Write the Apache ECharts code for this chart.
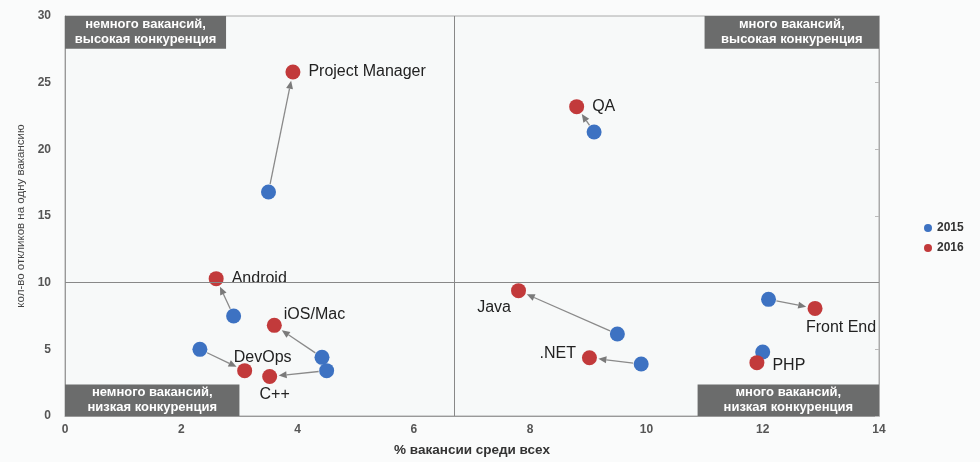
<!DOCTYPE html>
<html><head><meta charset="utf-8">
<script src="https://cdn.jsdelivr.net/npm/echarts@6/dist/echarts.min.js"></script>
<style>html,body{margin:0;padding:0;background:#fafbfb}#c{width:980px;height:462px}</style>
</head><body><div id="c"></div>
<script>
// ---- data ----
const names = ['Project Manager','QA','Android','iOS/Mac','DevOps','C++','Java','.NET','Front End','PHP'];
const x2015 = [3.5, 9.1, 2.9, 4.42, 2.32, 4.5, 9.5, 9.91, 12.1, 12.0];
const y2015 = [16.8, 21.3, 7.5, 4.4, 5.0, 3.4, 6.15, 3.9, 8.75, 4.8];
const x2016 = [3.92, 8.8, 2.6, 3.6, 3.09, 3.52, 7.8, 9.02, 12.9, 11.9];
const y2016 = [25.8, 23.2, 10.3, 6.8, 3.4, 2.96, 9.4, 4.37, 8.07, 4.0];
const seriesNames = ['2015','2016'];
const xTicks = {min:0, max:14, interval:2};
const yTicks = {min:0, max:30, interval:5};
const xSplit = 6.7;   // quadrant divider (% vacancies)
const ySplit = 10;    // quadrant divider (responses per vacancy)
const quadrantText = [
  'немного вакансий,\nвысокая конкуренция',
  'много вакансий,\nвысокая конкуренция',
  'немного вакансий,\nнизкая конкуренция',
  'много вакансий,\nнизкая конкуренция'
];
const xName = '% вакансии среди всех';
const yName = 'кол-во откликов на одну вакансию';

// ---- styles ----
const BLUE = '#3d72c2', RED = '#c23a3b', BOX = '#6b6c6c';
const labelStyle = {
  'Project Manager': {position:'right', distance:8, offset:[0,0]},
  'QA': {position:'right', distance:8, offset:[0,0]},
  'Android': {position:'right', distance:8, offset:[0,0]},
  'iOS/Mac': {position:'right', distance:2, offset:[0,-11]},
  'DevOps': {position:'top', distance:2, offset:[18,4]},
  'C++': {position:'bottom', distance:2, offset:[5,1]},
  'Java': {position:'left', distance:2, offset:[2,17]},
  '.NET': {position:'left', distance:6, offset:[0,-4]},
  'Front End': {position:'bottom', distance:1, offset:[26,3]},
  'PHP': {position:'right', distance:8, offset:[0,3]}
};

const d2015 = names.map((n,i)=>[x2015[i], y2015[i], n]);
const d2016 = names.map((n,i)=>{
  const ls = labelStyle[n];
  return {value:[x2016[i], y2016[i], n], label:{show:true, position:ls.position, distance:ls.distance, offset:ls.offset}};
});
const arrows = names.map((n,i)=>[x2015[i], y2015[i], x2016[i], y2016[i]]);

const boxLabel = {show:true, position:'inside', color:'#fff', fontSize:13, fontWeight:'bold', lineHeight:15, fontFamily:'Liberation Sans, Arial, sans-serif'};
const boxStyle = {color:BOX, opacity:1};
// quadrant label boxes (data-space extents)
const boxes = [
  [{xAxis:0, yAxis:30, name:quadrantText[0]}, {xAxis:2.77, yAxis:27.55}],
  [{xAxis:11.0, yAxis:30, name:quadrantText[1]}, {xAxis:14, yAxis:27.55}],
  [{xAxis:0, yAxis:2.37, name:quadrantText[2]}, {xAxis:3.0, yAxis:0}],
  [{xAxis:10.88, yAxis:2.37, name:quadrantText[3]}, {xAxis:14, yAxis:0}]
];

const chart = echarts.init(document.getElementById('c'));
const axisLabel = {color:'#555', fontSize:12, fontWeight:'bold', fontFamily:'Liberation Sans, Arial, sans-serif'};
chart.setOption({
  backgroundColor:'#fafbfb',
  animation:false,
  textStyle:{fontFamily:'Liberation Sans, Arial, sans-serif'},
  grid:{left:65, right:101, top:16, bottom:40, show:true, backgroundColor:'#f7f9f9', borderColor:'#aaa', borderWidth:1},
  legend:{
    data:seriesNames, orient:'vertical', left:919, top:217, itemWidth:8, itemHeight:8, itemGap:8,
    icon:'circle', textStyle:{color:'#333', fontSize:12, fontWeight:'bold'}
  },
  xAxis:[{
    type:'value', min:xTicks.min, max:xTicks.max, interval:xTicks.interval,
    name:xName, nameLocation:'middle', nameGap:27,
    nameTextStyle:{color:'#333', fontSize:13.5, fontWeight:'bold'},
    axisLine:{show:true, lineStyle:{color:'#999'}}, axisTick:{show:false},
    axisLabel:axisLabel, splitLine:{show:false}
  }],
  yAxis:[{
    type:'value', min:yTicks.min, max:yTicks.max, interval:yTicks.interval,
    name:yName, nameLocation:'middle', nameGap:32,
    nameTextStyle:{color:'#444', fontSize:11.5},
    axisLine:{show:true, lineStyle:{color:'#999'}}, axisTick:{show:false},
    axisLabel:Object.assign({margin:14}, axisLabel), splitLine:{show:false}
  },{
    type:'value', min:yTicks.min, max:yTicks.max, interval:yTicks.interval, position:'right',
    axisLine:{show:true, lineStyle:{color:'#aaa'}}, axisTick:{show:true, inside:true, length:4, lineStyle:{color:'#bbb'}},
    axisLabel:{show:false}, splitLine:{show:false}
  }],
  series:[
    {
      type:'custom', name:'arrows', silent:true, z:1,
      data:arrows,
      renderItem:function(params, api){
        const p1 = api.coord([api.value(0), api.value(1)]);
        const p2 = api.coord([api.value(2), api.value(3)]);
        const dx = p2[0]-p1[0], dy = p2[1]-p1[1];
        const L = Math.sqrt(dx*dx+dy*dy) || 1;
        const ux = dx/L, uy = dy/L;
        const s = [p1[0]+ux*8, p1[1]+uy*8];
        const e = [p2[0]-ux*9, p2[1]-uy*9];
        const ah = 8, aw = 3.5;
        const b = [e[0]-ux*ah, e[1]-uy*ah];
        return {type:'group', children:[
          {type:'line', shape:{x1:s[0], y1:s[1], x2:b[0], y2:b[1]}, style:{stroke:'#8a8a8a', lineWidth:1.3}},
          {type:'polygon', shape:{points:[e, [b[0]-uy*aw, b[1]+ux*aw], [b[0]+uy*aw, b[1]-ux*aw]]}, style:{fill:'#7a7a7a'}}
        ]};
      },
      markLine:{
        silent:true, symbol:'none', label:{show:false},
        lineStyle:{color:'#888', width:1, type:'solid'},
        data:[{xAxis:xSplit}, {yAxis:ySplit}]
      },
      markArea:{
        silent:true, itemStyle:boxStyle, label:boxLabel,
        data:boxes
      }
    },
    {
      type:'scatter', name:seriesNames[0], data:d2015, symbolSize:15, z:3,
      itemStyle:{color:BLUE, opacity:1}
    },
    {
      type:'scatter', name:seriesNames[1], data:d2016, symbolSize:15, z:3,
      itemStyle:{color:RED, opacity:1},
      label:{show:true, formatter:p=>p.value[2], color:'#222', fontSize:16, fontFamily:'Liberation Sans, Arial, sans-serif'}
    }
  ]
});
</script></body></html>
